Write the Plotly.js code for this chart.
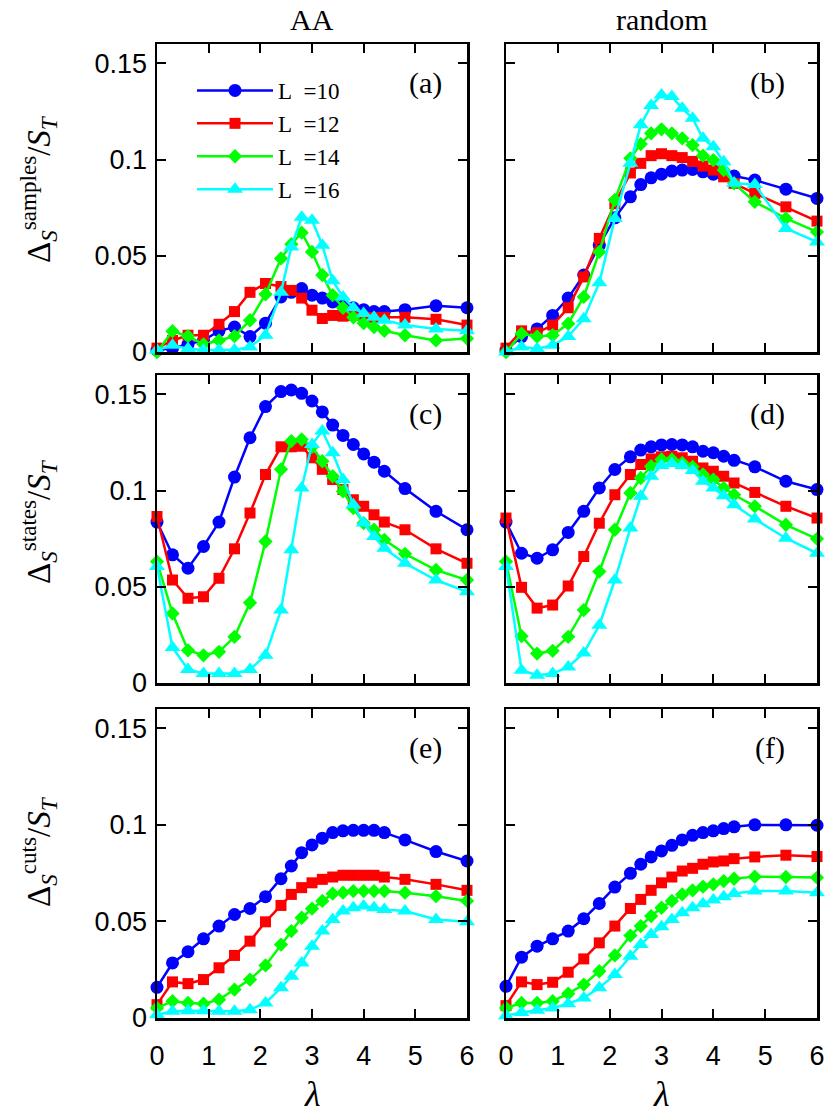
<!DOCTYPE html>
<html>
<head>
<meta charset="utf-8">
<script src="https://cdn.plot.ly/plotly-3.0.1.min.js"></script>
<style>
  html, body { margin: 0; padding: 0; background: #fff; }
  #fig { width: 831px; height: 1119px; }
</style>
</head>
<body>
<div id="fig"></div>
<script>
// lambda grid shared by every panel
var lambda = [0, 0.3, 0.6, 0.9, 1.2, 1.5, 1.8, 2.1, 2.4, 2.6, 2.8, 3.0, 3.2, 3.4, 3.6, 3.8, 4.0, 4.2, 4.4, 4.8, 5.4, 6.0];

var sizes = ['10', '12', '14', '16'];
var colors = ['#0000ff', '#ff0000', '#00ff00', '#00ffff'];
var symbols = ['circle', 'square', 'diamond', 'triangle-up'];

var yTickVals = [0, 0.05, 0.1, 0.15];
var yTickText = ['0', '0.05', '0.1', '0.15'];
var xTickVals = [0, 1, 2, 3, 4, 5, 6];
var panelLetters = ['(a)', '(b)', '(c)', '(d)', '(e)', '(f)'];
var columnTitles = ['AA', 'random'];

// (a) samples, AA
var samplesAA10 = [0.001, 0.002, 0.004, 0.006, 0.011, 0.013, 0.008, 0.015, 0.0286, 0.031, 0.033, 0.0295, 0.028, 0.026, 0.024, 0.023, 0.022, 0.021, 0.021, 0.022, 0.024, 0.023];
var samplesAA12 = [0.002, 0.006, 0.0087, 0.0087, 0.0144, 0.021, 0.031, 0.0356, 0.034, 0.032, 0.028, 0.0217, 0.0174, 0.019, 0.0186, 0.019, 0.018, 0.018, 0.018, 0.018, 0.017, 0.014];
var samplesAA14 = [0, 0.0108, 0.0082, 0.004, 0.006, 0.0082, 0.0165, 0.030, 0.0486, 0.056, 0.062, 0.052, 0.040, 0.0295, 0.023, 0.018, 0.015, 0.013, 0.011, 0.0087, 0.006, 0.007];
var samplesAA16 = [0.001, 0.0035, 0.0017, 0.001, 0.001, 0.001, 0.0026, 0.0087, 0.031, 0.0546, 0.070, 0.0685, 0.0555, 0.037, 0.0286, 0.023, 0.020, 0.018, 0.0165, 0.014, 0.012, 0.011];

// (b) samples, random
var samplesRnd10 = [0.001, 0.008, 0.012, 0.019, 0.028, 0.040, 0.0555, 0.0697, 0.0806, 0.087, 0.0905, 0.0924, 0.094, 0.0945, 0.0948, 0.0936, 0.0924, 0.0917, 0.0914, 0.0893, 0.0846, 0.0798];
var samplesRnd12 = [0.002, 0.011, 0.010, 0.014, 0.023, 0.039, 0.059, 0.077, 0.093, 0.098, 0.102, 0.103, 0.102, 0.101, 0.099, 0.0966, 0.0945, 0.091, 0.0876, 0.0824, 0.0754, 0.068];
var samplesRnd14 = [0, 0.0095, 0.008, 0.0087, 0.0147, 0.0286, 0.052, 0.079, 0.1006, 0.108, 0.1136, 0.1157, 0.1136, 0.111, 0.1075, 0.102, 0.0997, 0.0945, 0.0876, 0.078, 0.0694, 0.0624];
var samplesRnd16 = [0, 0.0026, 0.0017, 0.0035, 0.008, 0.0173, 0.036, 0.0694, 0.098, 0.118, 0.128, 0.1335, 0.1327, 0.1266, 0.1214, 0.111, 0.1066, 0.0988, 0.0876, 0.087, 0.0642, 0.0572];

// (c) states, AA
var statesAA10 = [0.0836, 0.0666, 0.0596, 0.0709, 0.0836, 0.107, 0.1274, 0.1436, 0.1514, 0.1522, 0.1505, 0.1465, 0.1408, 0.134, 0.1286, 0.1239, 0.119, 0.1147, 0.11, 0.101, 0.0892, 0.0796];
var statesAA12 = [0.0865, 0.0535, 0.044, 0.0448, 0.0544, 0.0697, 0.0883, 0.1083, 0.1227, 0.1227, 0.123, 0.117, 0.111, 0.1057, 0.1005, 0.0952, 0.0918, 0.0874, 0.0836, 0.0796, 0.0697, 0.0622];
var statesAA14 = [0.0631, 0.0361, 0.017, 0.0144, 0.0162, 0.024, 0.0417, 0.0735, 0.111, 0.1257, 0.1265, 0.1227, 0.1152, 0.1074, 0.0996, 0.0909, 0.0831, 0.0796, 0.0744, 0.0671, 0.0587, 0.0535];
var statesAA16 = [0.0605, 0.0184, 0.007, 0.0049, 0.0049, 0.0049, 0.007, 0.0144, 0.0379, 0.0692, 0.1013, 0.1239, 0.1309, 0.1196, 0.1057, 0.0926, 0.0831, 0.0761, 0.07, 0.0622, 0.0535, 0.0474];

// (d) states, random
var statesRnd10 = [0.0836, 0.0674, 0.0648, 0.0692, 0.0782, 0.0892, 0.1013, 0.1109, 0.1175, 0.121, 0.1227, 0.1237, 0.1239, 0.1237, 0.1227, 0.1204, 0.1196, 0.1178, 0.1157, 0.1123, 0.1048, 0.1005];
var statesRnd12 = [0.0857, 0.0497, 0.0389, 0.0405, 0.0504, 0.0657, 0.083, 0.0978, 0.1083, 0.1135, 0.1164, 0.1175, 0.1178, 0.117, 0.1152, 0.1117, 0.11, 0.1074, 0.1039, 0.099, 0.0918, 0.0857];
var statesRnd14 = [0.0631, 0.0243, 0.0153, 0.0167, 0.024, 0.0379, 0.0579, 0.0796, 0.0987, 0.1065, 0.1126, 0.1161, 0.1161, 0.1144, 0.1123, 0.1083, 0.1057, 0.1013, 0.0978, 0.0918, 0.0822, 0.0749];
var statesRnd16 = [0.0605, 0.0066, 0.004, 0.0049, 0.0083, 0.0156, 0.03, 0.0535, 0.0805, 0.097, 0.1074, 0.113, 0.114, 0.113, 0.1104, 0.1048, 0.1013, 0.0973, 0.0926, 0.0852, 0.0752, 0.0674];

// (e) cuts, AA
var cutsAA10 = [0.0159, 0.0285, 0.0343, 0.041, 0.0476, 0.0536, 0.0567, 0.0628, 0.0721, 0.0787, 0.0856, 0.0896, 0.0931, 0.096, 0.0969, 0.0972, 0.0972, 0.0972, 0.096, 0.0922, 0.0862, 0.0813];
var cutsAA12 = [0.0069, 0.0187, 0.0178, 0.0199, 0.026, 0.0324, 0.0398, 0.0498, 0.0583, 0.064, 0.0675, 0.07, 0.0718, 0.073, 0.0739, 0.0739, 0.0739, 0.0739, 0.073, 0.0718, 0.0692, 0.0661];
var cutsAA14 = [0.0052, 0.0087, 0.0078, 0.0074, 0.0095, 0.0147, 0.0199, 0.0272, 0.038, 0.045, 0.0519, 0.0566, 0.0606, 0.0644, 0.0649, 0.0657, 0.0657, 0.0657, 0.0657, 0.0649, 0.0631, 0.0606];
var cutsAA16 = [0.0017, 0.0035, 0.0038, 0.0038, 0.0035, 0.0035, 0.0043, 0.0078, 0.0156, 0.0216, 0.0285, 0.0372, 0.045, 0.051, 0.0554, 0.0571, 0.058, 0.0571, 0.0562, 0.0554, 0.051, 0.0498];

// (f) cuts, random
var cutsRnd10 = [0.0164, 0.0315, 0.0372, 0.041, 0.045, 0.0514, 0.0593, 0.0678, 0.0749, 0.0796, 0.0834, 0.0865, 0.0894, 0.0922, 0.0946, 0.096, 0.0969, 0.0981, 0.099, 0.1, 0.1, 0.0998];
var cutsRnd12 = [0.0064, 0.0187, 0.0173, 0.0185, 0.0237, 0.0306, 0.0389, 0.0476, 0.0567, 0.0614, 0.0661, 0.07, 0.073, 0.0761, 0.0775, 0.0796, 0.0808, 0.0813, 0.0825, 0.0834, 0.0843, 0.0836];
var cutsRnd14 = [0.0052, 0.0078, 0.0078, 0.0087, 0.0126, 0.0173, 0.0242, 0.0324, 0.0427, 0.0476, 0.0528, 0.0571, 0.0606, 0.064, 0.0661, 0.068, 0.0692, 0.0709, 0.0721, 0.0732, 0.073, 0.0727];
var cutsRnd16 = [0.0012, 0.0029, 0.004, 0.0052, 0.0074, 0.0104, 0.0156, 0.0225, 0.032, 0.038, 0.0433, 0.0472, 0.051, 0.0545, 0.0571, 0.0592, 0.0611, 0.0628, 0.0645, 0.0657, 0.0657, 0.0649];

document.addEventListener('DOMContentLoaded', function() {
  var panels = [
    [samplesAA10, samplesAA12, samplesAA14, samplesAA16],
    [samplesRnd10, samplesRnd12, samplesRnd14, samplesRnd16],
    [statesAA10, statesAA12, statesAA14, statesAA16],
    [statesRnd10, statesRnd12, statesRnd14, statesRnd16],
    [cutsAA10, cutsAA12, cutsAA14, cutsAA16],
    [cutsRnd10, cutsRnd12, cutsRnd14, cutsRnd16]
  ];
  var markerSizes = [13, 11, 11, 14];

  var traces = [];
  panels.forEach(function(series, p) {
    var suffix = p === 0 ? '' : String(p + 1);
    series.forEach(function(vals, k) {
      traces.push({
        x: lambda,
        y: vals,
        xaxis: 'x' + suffix,
        yaxis: 'y' + suffix,
        mode: 'lines+markers',
        name: 'L\u2002=' + sizes[k],
        showlegend: p === 0,
        cliponaxis: false,
        line: { color: colors[k], width: 2.5 },
        marker: { color: colors[k], symbol: symbols[k], size: markerSizes[k] }
      });
    });
  });

  var W = 831, H = 1119;
  var cols = [[157, 467], [506, 817]];
  var rows = [[44, 352], [375, 683], [709, 1018]];
  var sans = 'Liberation Sans, Arial, sans-serif';
  var serif = 'Liberation Serif, Times New Roman, serif';

  var layout = {
    width: W,
    height: H,
    margin: { l: 0, r: 0, t: 0, b: 0 },
    paper_bgcolor: '#fff',
    plot_bgcolor: '#fff',
    font: { family: sans, size: 26, color: '#000' },
    showlegend: true,
    legend: {
      x: 192 / W, y: 1 - 69 / H, xanchor: 'left', yanchor: 'top',
      bgcolor: 'rgba(0,0,0,0)',
      font: { family: serif, size: 23, color: '#000' },
      itemwidth: 76,
      tracegroupgap: 0
    },
    annotations: []
  };

  for (var p = 0; p < 6; p++) {
    var c = p % 2, r = Math.floor(p / 2);
    var suffix = p === 0 ? '' : String(p + 1);
    layout['xaxis' + suffix] = {
      domain: [cols[c][0] / W, cols[c][1] / W],
      anchor: 'y' + suffix,
      range: [0, 6],
      tickvals: xTickVals,
      showticklabels: r === 2,
      ticks: 'inside', ticklen: 9, tickwidth: 2, tickcolor: '#000',
      showline: true, linewidth: 2.5, linecolor: '#000', mirror: 'ticks',
      showgrid: false, zeroline: false, automargin: false,
      ticklabelstandoff: 12,
      tickfont: { family: sans, size: 27 }
    };
    layout['yaxis' + suffix] = {
      domain: [1 - rows[r][1] / H, 1 - rows[r][0] / H],
      anchor: 'x' + suffix,
      range: [0, 0.16],
      tickvals: yTickVals,
      ticktext: yTickText,
      showticklabels: c === 0,
      ticks: 'inside', ticklen: 9, tickwidth: 2, tickcolor: '#000',
      showline: true, linewidth: 2.5, linecolor: '#000', mirror: 'ticks',
      showgrid: false, zeroline: false, automargin: false,
      ticklabelstandoff: 2,
      tickfont: { family: sans, size: 27 }
    };
    layout.annotations.push({
      text: panelLetters[p],
      xref: 'x' + suffix + ' domain', yref: 'y' + suffix + ' domain',
      x: c === 0 ? 0.925 : 0.905, y: 0.875,
      xanchor: 'right', yanchor: 'middle',
      showarrow: false,
      font: { family: serif, size: 30 }
    });
  }

  // column titles
  columnTitles.forEach(function(t, c) {
    layout.annotations.push({
      text: t, xref: 'paper', yref: 'paper',
      x: (cols[c][0] + cols[c][1]) / 2 / W, y: 1 - 19 / H,
      xanchor: 'center', yanchor: 'middle', showarrow: false,
      font: { family: serif, size: 30 }
    });
  });

  // lambda labels under the bottom row
  cols.forEach(function(col) {
    layout.annotations.push({
      text: '<i>λ</i>', xref: 'paper', yref: 'paper',
      x: (col[0] + col[1]) / 2 / W, y: 1 - 1094 / H,
      xanchor: 'center', yanchor: 'middle', showarrow: false,
      font: { family: serif, size: 36 }
    });
  });

  // row labels
  var rowNames = ['samples', 'states', 'cuts'];
  var rowCenters = [189, 522, 852];
  rowNames.forEach(function(nm, r) {
    layout.annotations.push({
      text: 'Δ<sub><i>S</i></sub><sup>' + nm + '</sup>/<i>S</i><sub><i>T</i></sub>',
      xref: 'paper', yref: 'paper',
      x: 38 / W, y: 1 - rowCenters[r] / H,
      xanchor: 'center', yanchor: 'middle', textangle: -90, showarrow: false,
      font: { family: serif, size: 33 }
    });
  });

  Plotly.newPlot('fig', traces, layout, { displayModeBar: false, staticPlot: true });
});
</script>
</body>
</html>
